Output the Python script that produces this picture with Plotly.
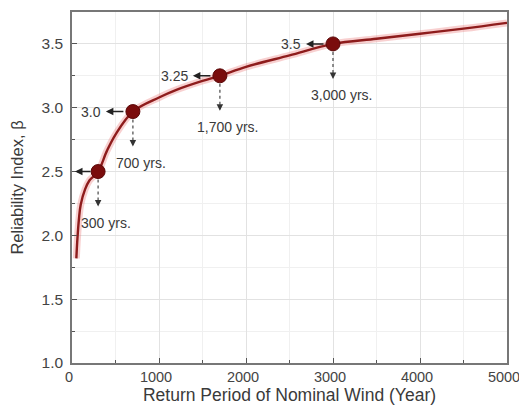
import plotly.graph_objects as go

# Curve
return_period = [50, 60, 80, 100, 150, 200, 300, 400, 500, 700, 1000, 1200, 1500,
                 1700, 2000, 2500, 3000, 3500, 4000, 4500, 5000]
beta_curve = [1.82, 1.95, 2.13, 2.24, 2.36, 2.43, 2.50, 2.66, 2.79, 2.97, 3.08, 3.14, 3.21,
              3.25, 3.32, 3.41, 3.50, 3.54, 3.58, 3.62, 3.665]

# Highlighted points
point_T = [300, 700, 1700, 3000]
point_beta = [2.5, 2.97, 3.25, 3.5]
beta_labels = ["", "3.0", "3.25", "3.5"]
year_labels = ["300 yrs.", "700 yrs.", "1,700 yrs.", "3,000 yrs."]

x_ticks = [0, 1000, 2000, 3000, 4000, 5000]
y_ticks = [1.0, 1.5, 2.0, 2.5, 3.0, 3.5]

FONT = "Liberation Sans, Arial, sans-serif"
TXT = "#3a3a3a"
LINE = "#8e1c1c"
MARK = "#7a0c0c"

fig = go.Figure()
# soft halo
fig.add_trace(go.Scatter(x=return_period, y=beta_curve, mode="lines",
                         line=dict(color="rgba(235,120,120,0.35)", width=7, shape="spline"),
                         hoverinfo="skip", showlegend=False))
fig.add_trace(go.Scatter(x=return_period, y=beta_curve, mode="lines",
                         line=dict(color=LINE, width=2.4, shape="spline"),
                         showlegend=False))
fig.add_trace(go.Scatter(x=point_T, y=point_beta, mode="markers",
                         marker=dict(color=MARK, size=14, line=dict(color="#5a0808", width=1)),
                         showlegend=False))

shapes = []
annotations = []
for i, (t, b) in enumerate(zip(point_T, point_beta)):
    # dotted vertical line
    shapes.append(dict(type="line", xref="x", yref="y", x0=t, x1=t,
                       ysizemode="pixel", yanchor=b, y0=-8, y1=-30,
                       line=dict(color="#555", width=1.3, dash="dot")))
    # arrow head down
    annotations.append(dict(x=t, y=b, xref="x", yref="y", text="", showarrow=True,
                            yshift=-35, ax=0, ay=-7, arrowhead=2, arrowsize=1,
                            arrowwidth=1.3, arrowcolor="#333"))
    annotations.append(dict(x=t, y=b, xref="x", yref="y", text=year_labels[i],
                            showarrow=False, yshift=-51, xshift=8,
                            font=dict(family=FONT, size=14, color=TXT)))
    if beta_labels[i] == "":
        annotations.append(dict(x=0, y=b, xref="x", yref="y", text="", showarrow=True,
                                xshift=3, ax=17, ay=0, arrowhead=2, arrowsize=1,
                                arrowwidth=1.5, arrowcolor="#222"))
    else:
        annotations.append(dict(x=t, y=b, xref="x", yref="y", text="", showarrow=True,
                                xshift=-27, ax=19, ay=0, arrowhead=2, arrowsize=1,
                                arrowwidth=1.5, arrowcolor="#222"))
        annotations.append(dict(x=t, y=b, xref="x", yref="y", text=beta_labels[i],
                                showarrow=False, xanchor="right", xshift=-30,
                                font=dict(family=FONT, size=14, color=TXT)))

# The page body adds an 8px margin, so the figure is sized/offset to compensate.
fig.update_layout(
    width=519, height=399,
    margin=dict(l=64, r=20, t=4, b=44, autoexpand=False),
    paper_bgcolor="white", plot_bgcolor="white",
    font=dict(family=FONT, color=TXT),
    shapes=shapes, annotations=annotations,
)
fig.update_xaxes(range=[0, 5000], tickvals=x_ticks, ticks="inside", ticklen=5,
                 tickcolor="#555", showline=True, linecolor="#777", linewidth=1.5,
                 mirror=True, showgrid=True, gridcolor="#e2e2e2", zeroline=False,
                 automargin=False, ticklabelshift=-3,
                 tickfont=dict(size=14.5, color="#444"),
                 minor=dict(dtick=500, ticks="inside", ticklen=3, tickcolor="#555",
                            showgrid=True, gridcolor="#f0f0f0"),
                 title=dict(text="Return Period of Nominal Wind (Year)",
                            font=dict(size=17.5, color=TXT), standoff=4))
fig.update_yaxes(range=[1.0, 3.75], tickvals=y_ticks, tickformat=".1f", ticks="inside",
                 ticklen=5, tickcolor="#555", showline=True, linecolor="#777",
                 linewidth=1.5, mirror=True, showgrid=True, gridcolor="#e2e2e2",
                 zeroline=False, automargin=False, tickfont=dict(size=15.5, color="#444"),
                 ticklabelstandoff=4,
                 minor=dict(dtick=0.25, ticks="inside", ticklen=3, tickcolor="#555",
                            showgrid=True, gridcolor="#f0f0f0"),
                 title=dict(text="Reliability Index, β", font=dict(size=16.5, color=TXT),
                            standoff=14))

fig.write_html("out.html")
